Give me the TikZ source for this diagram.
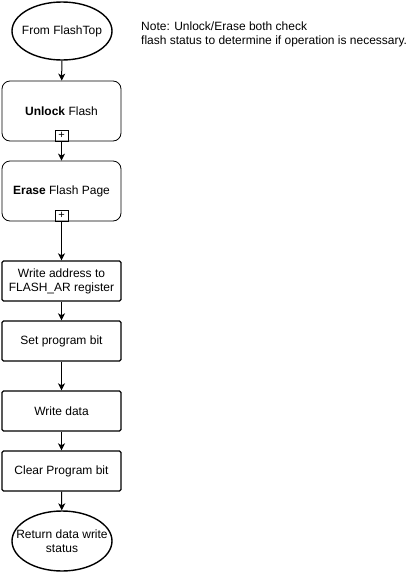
\documentclass[tikz,border=0pt]{standalone}
\usepackage{fontspec}
\setmainfont{Liberation Sans}
\usetikzlibrary{shapes.geometric,arrows.meta}
\begin{document}
\begin{tikzpicture}[x=1pt,y=-1pt,
  every node/.style={font=\fontsize{12}{14}\selectfont},
  term/.style={ellipse,draw,line width=1.4pt,minimum width=100pt,minimum height=58pt,inner sep=0pt},
  sub/.style={rectangle,rounded corners=8pt,draw,line width=0.8pt,minimum width=119pt,minimum height=60pt,inner sep=0pt,align=center},
  plusbox/.style={rectangle,draw,line width=0.8pt,minimum width=13pt,minimum height=11pt,inner sep=0pt,font=\fontsize{11}{11}\selectfont},
  stepbox/.style={rectangle,rounded corners=1.5pt,draw,line width=1.4pt,minimum width=119pt,minimum height=40pt,inner sep=0pt,align=center},
  conn/.style={draw,line width=1pt,-{Stealth[length=7pt,width=7pt,inset=2pt]}}
]
\useasboundingbox (0,0) rectangle (420,573);
\node[term,label={[align=center]center:From FlashTop}] (start) at (62,31) {};
\node[sub] (unlock) at (61.5,111) {\textbf{Unlock} Flash};
\node[plusbox,anchor=south] (unlockp) at (unlock.south) {+};
\node[sub] (erase) at (61.5,191) {\textbf{Erase} Flash Page};
\node[plusbox,anchor=south] (erasep) at (erase.south) {+};
\node[stepbox] (waddr) at (61.5,281) {Write address to\\FLASH\_AR register};
\node[stepbox] (setp) at (61.5,341) {Set program bit};
\node[stepbox] (wdata) at (61.5,411) {Write data};
\node[stepbox] (clrp) at (61.5,471) {Clear Program bit};
\node[term,minimum height=60pt,label={[align=center]center:Return data write\\status}] (ret) at (62,541) {};
\node[anchor=west,align=left,inner sep=0pt] (note) at (141,34) {Note: Unlock/Erase both check\\flash status to determine if operation is necessary.};
\draw[conn] (start) -- (unlock);
\draw[conn] (unlockp.south) -- (erase);
\draw[conn] (erasep.south) -- (waddr);
\draw[conn] (waddr) -- (setp);
\draw[conn] (setp) -- (wdata);
\draw[conn] (wdata) -- (clrp);
\draw[conn] (clrp) -- (ret);
\end{tikzpicture}
\end{document}
